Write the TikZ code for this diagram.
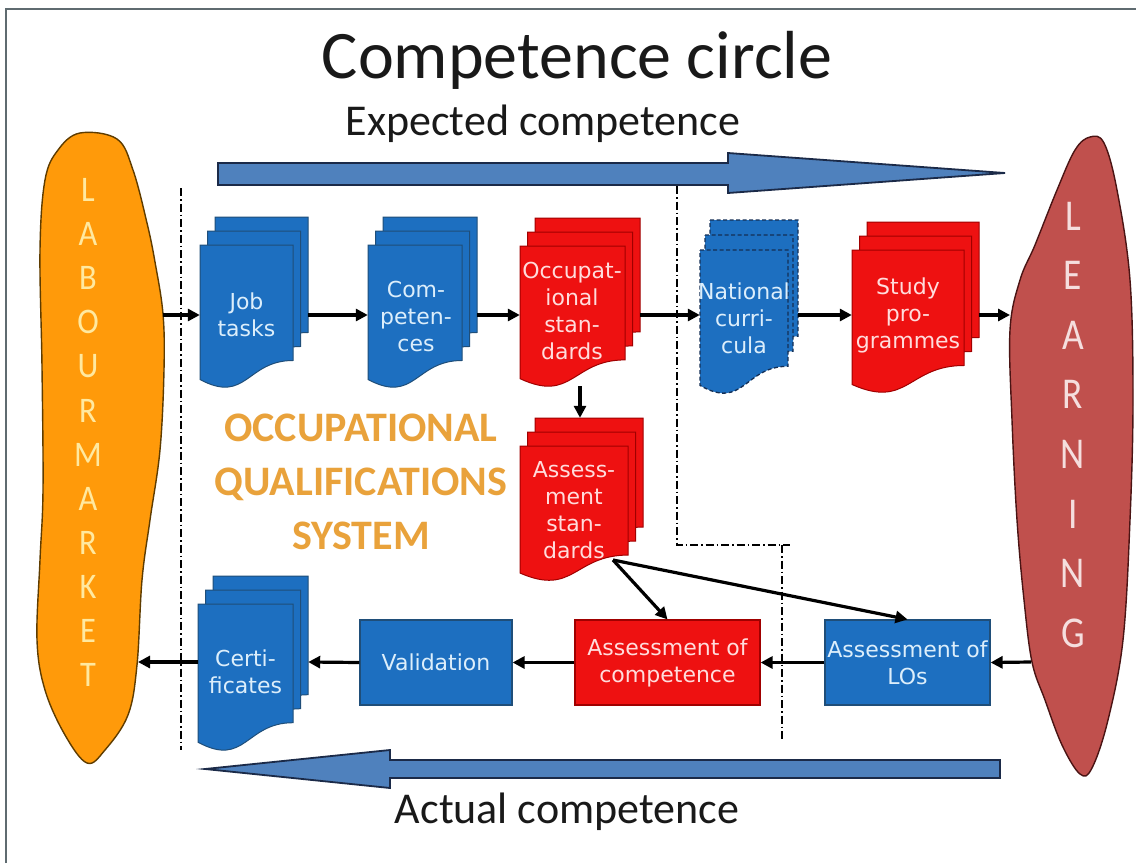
\documentclass[tikz,border=0pt]{standalone}
\usepackage{fontspec}
\setmainfont{Carlito}
\newfontfamily\boxfont{DejaVu Sans}
\usetikzlibrary{arrows.meta,calc}
\definecolor{docblue}{HTML}{1D6FC0}
\definecolor{docblueedge}{HTML}{1F4E79}
\definecolor{docred}{HTML}{EE1111}
\definecolor{docrededge}{HTML}{A00000}
\definecolor{navyedge}{HTML}{142F55}
\definecolor{labcol}{HTML}{FF9A0A}
\definecolor{labedge}{HTML}{5E3C00}
\definecolor{learncol}{HTML}{C0504D}
\definecolor{learnedge}{HTML}{4A1414}
\definecolor{bigarrow}{HTML}{4F81BD}
\definecolor{bigarrowedge}{HTML}{1B2A48}
\definecolor{oqscol}{HTML}{E9A23B}
\definecolor{labletter}{HTML}{FFE9A0}
\definecolor{learnletter}{HTML}{F5DEDE}
\definecolor{bluetext}{HTML}{DCEEFB}
\definecolor{redtext}{HTML}{FFDCDC}
\definecolor{framecol}{HTML}{5F6B70}
\newcommand\docpg[5]{%
  \pgfmathsetmacro\pgL{#1}\pgfmathsetmacro\pgT{#2}%
  \pgfmathsetmacro\pgR{#1+#3}\pgfmathsetmacro\pgM{#1+0.5*#3}%
  \pgfmathsetmacro\pgA{#2+0.802*#4}\pgfmathsetmacro\pgB{#2+1.1075*#4}\pgfmathsetmacro\pgC{#2+0.934*#4}%
  \path[#5] (\pgL,\pgT) -- (\pgR,\pgT) -- (\pgR,\pgA) .. controls (\pgM,\pgA) and (\pgM,\pgB) .. (\pgL,\pgC) -- cycle;}
% L T w h dx dy style
\newcommand\mdoc[7]{%
  \docpg{#1+2*#5}{#2-2*#6}{#3}{#4}{#7}%
  \docpg{#1+#5}{#2-#6}{#3}{#4}{#7}%
  \docpg{#1}{#2}{#3}{#4}{#7}}
\begin{document}
\begin{tikzpicture}[x=1pt,y=-1pt,
  bluedoc/.style={fill=docblue,draw=docblueedge,line width=1pt},
  reddoc/.style={fill=docred,draw=docrededge,line width=1pt},
  natdoc/.style={fill=docblue,draw=navyedge,line width=1.3pt,dash pattern=on 4pt off 2.5pt},
  anchorbox/.style={inner sep=0pt,draw=none,minimum width=#1},
  doctext/.style={font=\boxfont\fontsize{22}{27}\selectfont,align=center,inner sep=0pt},
  rbox/.style={font=\boxfont\fontsize{22}{27}\selectfont,align=center,inner sep=0pt,minimum height=85pt,line width=1.2pt},
  conn/.style={draw=black,line width=3.2pt,-{Triangle[length=12pt,width=12pt]}},
  sepline/.style={draw=black,line width=1.3pt,dash pattern=on 8pt off 3pt on 1.5pt off 3pt},
  bigarr/.style={fill=bigarrow,draw=bigarrowedge,line width=1.8pt},
  labl/.style={font=\fontsize{36}{36}\selectfont,text=labletter,inner sep=0pt,xscale=0.9},
  learnl/.style={font=\fontsize{44}{44}\selectfont,text=learnletter,inner sep=0pt,xscale=0.85},
  oqs/.style={font=\bfseries\fontsize{42}{54}\selectfont,text=oqscol,align=center,inner sep=0pt},
  heading/.style={inner sep=0pt,text=black!90}
]
\useasboundingbox (0,0) rectangle (1136,863);
\fill[white] (0,0) rectangle (1136,863);
\draw[framecol,line width=2.2pt] (6,863) -- (6,9) -- (1136,9);

% titles
\node[heading,font=\fontsize{68}{70}\selectfont] (title) at (577,60) {Competence circle};
\node[heading,font=\fontsize{44}{46}\selectfont] (expected) at (543,124) {Expected competence};
\node[heading,font=\fontsize{44}{46}\selectfont] (actual) at (567,812) {Actual competence};

% big arrows
\path[bigarr] (218,163) -- (728,163) -- (728,153) -- (1005,173) -- (728,193) -- (728,185) -- (218,185) -- cycle;
\path[bigarr] (1000,760) -- (390,760) -- (390,750) -- (205,769) -- (390,788) -- (390,778) -- (1000,778) -- cycle;

% separator lines
\draw[sepline] (181,188) -- (181,750);
\draw[sepline] (677,186) -- (677,545) -- (790,545);
\draw[sepline] (782,545) -- (782,740);

% labour market blob
\draw[fill=labcol,draw=labedge,line width=1.4pt] plot[smooth cycle,tension=0.6] coordinates {
 (80,133) (117,139) (133,170) (147,223) (155,262) (163,314) (164,370) (160,450)
 (150,520) (142,580) (137,665) (128,715) (105,750) (87,763) (65,735) (45,690)
 (37,640) (40,560) (43,490) (42,367) (40,250) (45,180) (58,150)};
\foreach \ch [count=\i] in {L,A,B,O,U,R,M,A,R,K,E,T}
  \node[labl] (lab\i) at (88,{190+(\i-1)*44.1}) {\ch};
\coordinate (labin) at (163,315);
\coordinate (labout) at (138,662);

% learning blob
\draw[fill=learncol,draw=learnedge,line width=1.4pt] plot[smooth cycle,tension=0.6] coordinates {
 (1090,137) (1104,143) (1117,190) (1130,280) (1133,400) (1130,520) (1123,640)
 (1108,720) (1092,768) (1080,774) (1062,745) (1045,700) (1032,662) (1024,600)
 (1017,520) (1012,420) (1010,330) (1020,280) (1035,245) (1057,190) (1075,150)};
\foreach \ch [count=\i] in {L,E,A,R,N,I,N,G}
  \node[learnl] (lrn\i) at (1073,{216+(\i-1)*59.6}) {\ch};
\coordinate (learnin) at (1010,315);
\coordinate (learnout) at (1031,662);

% OQS label
\node[oqs] (oqs) at (361,482) {OCCUPATIONAL\\QUALIFICATIONS\\SYSTEM};

% documents
\mdoc{200}{245}{93}{144}{7.5}{14}{bluedoc}
\node[anchorbox=108pt,minimum height=140pt] (job) at (254,315) {};
\node[doctext,text=bluetext] (jobt) at (246.5,315) {Job\\tasks};

\mdoc{368}{245}{94}{144}{7.5}{14}{bluedoc}
\node[anchorbox=109pt,minimum height=140pt] (comp) at (422.5,315) {};
\node[doctext,text=bluetext] (compt) at (416,316) {Com-\\peten-\\ces};

\mdoc{520}{246}{105}{142}{7.5}{14}{reddoc}
\node[anchorbox=120pt,minimum height=142pt] (occ) at (580,315) {};
\node[doctext,text=redtext] (occt) at (572,311) {Occupat-\\ional\\stan-\\dards};

\mdoc{700}{250}{88}{145}{5}{15}{natdoc}
\node[anchorbox=98pt,minimum height=140pt] (nat) at (749,315) {};
\node[doctext,text=bluetext] (natt) at (744,318) {National\\curri-\\cula};

\mdoc{852}{250}{112}{144}{7.5}{14}{reddoc}
\node[anchorbox=127pt,minimum height=140pt] (study) at (915.5,315) {};
\node[doctext,text=redtext] (studyt) at (908,315) {Study\\pro-\\grammes};

\mdoc{520}{446}{108}{136}{7.5}{14}{reddoc}
\node[anchorbox=123pt,minimum height=162pt] (ast) at (581.5,499) {};
\node[doctext,text=redtext] (astt) at (574,510) {Assess-\\ment\\stan-\\dards};
\coordinate (astout) at (613,560);

\mdoc{198}{604}{95}{148}{7.5}{14}{bluedoc}
\node[anchorbox=110pt,minimum height=140pt] (cert) at (253,662) {};
\node[doctext,text=bluetext] (certt) at (245.5,672) {Certi-\\ficates};

% rectangles
\node[rbox,fill=docblue,draw=docblueedge,text=bluetext,minimum width=152pt] (val) at (436,662.5) {Validation};
\node[rbox,fill=docred,draw=docrededge,text=redtext,minimum width=185pt] (acomp) at (667.5,662.5) {Assessment of\\competence};
\node[rbox,fill=docblue,draw=docblueedge,text=bluetext,minimum width=165pt] (los) at (907.5,662.5) {Assessment of\\LOs};

% connectors top row
\draw[conn] (labin) -- (job.west);
\draw[conn] (job.east) -- (comp.west);
\draw[conn] (comp.east) -- (occ.west);
\draw[conn] (occ.east) -- (nat.west);
\draw[conn] (nat.east) -- (study.west);
\draw[conn] (study.east) -- (learnin);
% vertical and diagonal
\draw[conn] (occ.south) -- (occ.south |- ast.north);
\draw[conn] (astout) -- (acomp.north);
\draw[conn] (astout) -- (los.north);
% bottom row
\draw[conn] (learnout) -- (los.east);
\draw[conn] (los.west) -- (acomp.east);
\draw[conn] (acomp.west) -- (val.east);
\draw[conn] (val.west) -- (cert.east);
\draw[conn] (cert.west) -- (labout);
\end{tikzpicture}
\end{document}
